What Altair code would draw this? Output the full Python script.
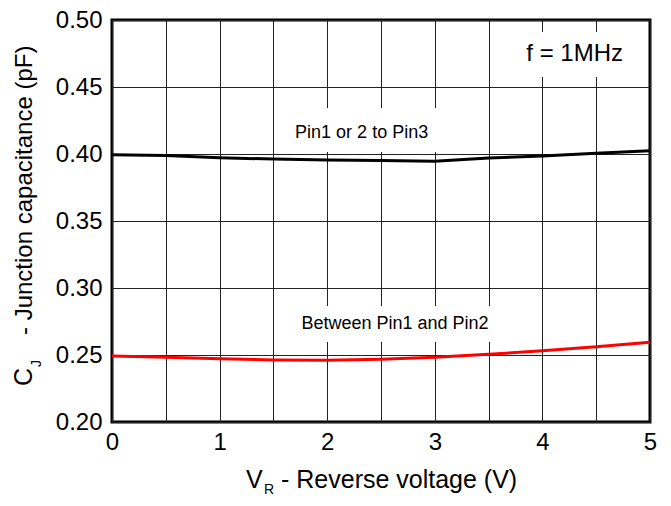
import altair as alt
import pandas as pd

# ---- data ----
vr = [0, 0.5, 1, 1.5, 2, 2.5, 3, 3.5, 4, 4.5, 5]
cj_pin12_to_pin3 = [0.3995, 0.3988, 0.3972, 0.3962, 0.3956, 0.3952, 0.3945, 0.3970, 0.3985, 0.4005, 0.4025]
cj_pin1_pin2 = [0.2493, 0.2483, 0.2472, 0.2463, 0.2460, 0.2468, 0.2483, 0.2505, 0.2532, 0.2562, 0.2595]

x_grid = [0, 0.5, 1, 1.5, 2, 2.5, 3, 3.5, 4, 4.5, 5]
y_grid = [0.20, 0.225, 0.25, 0.275, 0.30, 0.325, 0.35, 0.375, 0.40, 0.425, 0.45, 0.475, 0.50]

label_text = ["f = 1MHz", "Pin1 or 2 to Pin3", "Between Pin1 and Pin2"]
label_x = [4.3, 2.32, 2.63]
label_y = [0.4745, 0.4157, 0.2731]
label_size = [24, 18, 18]
box_x1 = [3.70, 1.568, 1.617]
box_x2 = [4.89, 3.055, 3.513]
box_y1 = [0.4575, 0.4015, 0.2597]
box_y2 = [0.491, 0.4343, 0.2866]

x_title_parts = ["V", "R", "- Reverse voltage (V)"]
y_title_parts = ["C", "J", "- Junction capacitance (pF)"]

FONT = "Liberation Sans"
W, H = 538, 402

lines_df = pd.DataFrame({
    "vr": vr * 2,
    "cj": cj_pin12_to_pin3 + cj_pin1_pin2,
    "series": ["Pin1 or 2 to Pin3"] * len(vr) + ["Between Pin1 and Pin2"] * len(vr),
})
labels_df = pd.DataFrame({
    "text": label_text, "x": label_x, "y": label_y, "size": label_size,
    "x1": box_x1, "x2": box_x2, "y1": box_y1, "y2": box_y2,
})

xscale = alt.Scale(domain=[0, 5], nice=False)
yscale = alt.Scale(domain=[0.2, 0.5], nice=False, zero=False)

xaxis = alt.Axis(values=x_grid, title=None, grid=True, ticks=False, domain=False,
                 labelExpr="datum.value % 1 === 0 ? format(datum.value, 'd') : ''",
                 labelFont=FONT, labelFontSize=24, labelColor="black", labelPadding=8,
                 gridColor="#222", gridWidth=1, gridOpacity=1, labelFlush=False)
yaxis = alt.Axis(values=y_grid, title=None, grid=True, ticks=False, domain=False,
                 labelExpr="abs(datum.value*20 - round(datum.value*20)) < 1e-6 ? format(datum.value, '.2f') : ''",
                 labelFont=FONT, labelFontSize=24, labelColor="black", labelPadding=10,
                 gridColor="#222", gridWidth=1, gridOpacity=1)

base_lines = alt.Chart(lines_df).mark_line(strokeWidth=3, clip=True).encode(
    x=alt.X("vr:Q", scale=xscale, axis=xaxis),
    y=alt.Y("cj:Q", scale=yscale, axis=yaxis),
    color=alt.Color("series:N", scale=alt.Scale(
        domain=["Pin1 or 2 to Pin3", "Between Pin1 and Pin2"], range=["black", "red"]), legend=None),
)

boxes = alt.Chart(labels_df).mark_rect(color="white").encode(
    x=alt.X("x1:Q", scale=xscale), x2="x2:Q",
    y=alt.Y("y1:Q", scale=yscale), y2="y2:Q",
)
texts = alt.Chart(labels_df).mark_text(font=FONT, color="black", align="center", baseline="middle").encode(
    x=alt.X("x:Q", scale=xscale), y=alt.Y("y:Q", scale=yscale),
    text="text:N", size=alt.Size("size:Q", scale=None, legend=None),
)

def piece(txt, px, py, size, angle=0):
    return alt.Chart(pd.DataFrame({"t": [txt]})).mark_text(
        font=FONT, fontSize=size, color="black", align="left", baseline="alphabetic", angle=angle
    ).encode(x=alt.value(px), y=alt.value(py), text="t:N")

xt = [piece(x_title_parts[0], 134, 468, 25),
      piece(x_title_parts[1], 152, 474, 14),
      piece(x_title_parts[2], 169, 468, 25)]
yt = [piece(y_title_parts[0], -80, 366, 25, 270),
      piece(y_title_parts[1], -71, 347, 14, 270),
      piece(y_title_parts[2], -80, 315, 24, 270)]

chart = alt.layer(boxes, base_lines, texts, *xt, *yt).properties(
    width=W, height=H,
    autosize=alt.AutoSizeParams(type="none"),
    padding={"left": 104, "top": 12, "right": 13, "bottom": 76},
    background="white",
).configure_view(stroke="black", strokeWidth=3)

chart.save("out.html", embed_options={"renderer": "svg", "actions": False})
